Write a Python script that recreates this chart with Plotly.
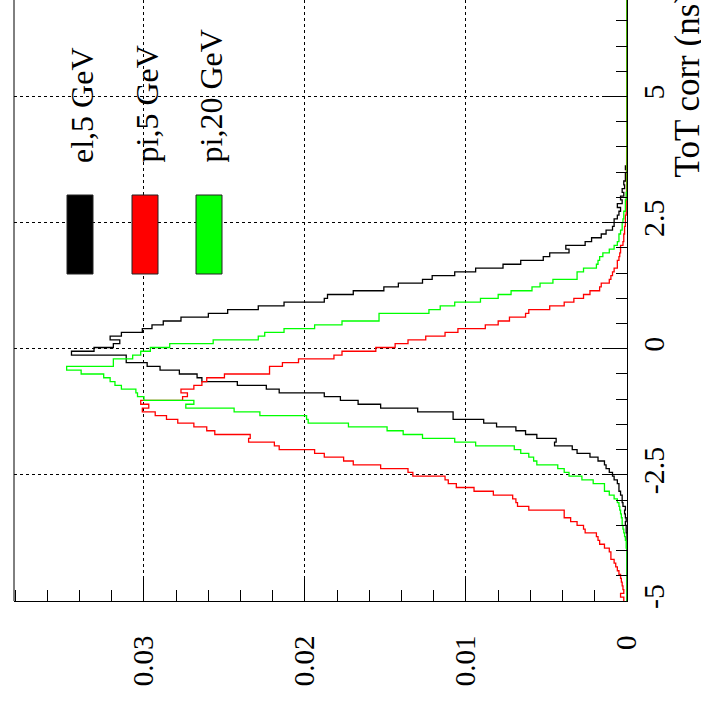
import plotly.graph_objects as go

# ToT corr histogram: 160 bins of 0.075 ns starting at -5 ns (normalised entries)
bin_start = -5.0
bin_width = 0.075

el_5GeV = [
    0, 0, 0, 0, 0, 0, 0, 0, 0, 0,
    0, 0, 0, 0, 0, 0, 0.00003, 0, 0.00005, 0.00005,
    0.0001, 0.00005, 0.0001, 0.00015, 0.0001, 0.00025, 0.0003, 0.0003, 0.0004, 0.0005,
    0.0005, 0.0006, 0.0008, 0.0009, 0.0011, 0.0013, 0.0014, 0.0018, 0.0023, 0.0031,
    0.0034, 0.0045, 0.0044, 0.0056, 0.0063, 0.0069, 0.0081, 0.0089, 0.0108, 0.0108,
    0.0130, 0.0153, 0.0167, 0.0178, 0.0188, 0.0216, 0.0224, 0.0242, 0.0264, 0.0267,
    0.0278, 0.0290, 0.0298, 0.0311, 0.0311, 0.0345, 0.0331, 0.0319, 0.0315, 0.0321,
    0.0314, 0.0301, 0.0295, 0.0288, 0.0277, 0.0260, 0.0248, 0.0229, 0.0213, 0.0188,
    0.0186, 0.0170, 0.0151, 0.0142, 0.0127, 0.0121, 0.0107, 0.0094, 0.0077, 0.0066,
    0.0052, 0.0048, 0.0036, 0.0038, 0.0026, 0.0022, 0.0016, 0.0013, 0.0009, 0.0008,
    0.0008, 0.0006, 0.0005, 0.0004, 0.0006, 0.0003, 0.0004, 0.0002, 0.0003, 0.00015,
    0.0002, 0.0001, 0.0001, 0.00003, 0.0001, 0, 0.00003, 0, 0, 0,
    0, 0, 0, 0, 0, 0, 0, 0, 0, 0,
    0, 0, 0, 0, 0, 0, 0, 0, 0, 0,
    0, 0, 0, 0, 0, 0, 0, 0, 0, 0,
    0, 0, 0, 0, 0, 0, 0, 0, 0, 0,
]

pi_5GeV = [
    0.0002, 0.0004, 0.0002, 0.00025, 0.0003, 0.00035, 0.0004, 0.0005, 0.0006, 0.0007,
    0.0008, 0.0010, 0.0010, 0.0011, 0.0014, 0.0017, 0.0018, 0.0019, 0.0026, 0.0027,
    0.0031, 0.0035, 0.0039, 0.0039, 0.0061, 0.0068, 0.0069, 0.0071, 0.0083, 0.0095,
    0.0106, 0.0111, 0.0113, 0.0133, 0.0136, 0.0153, 0.0170, 0.0176, 0.0188, 0.0194,
    0.0216, 0.0219, 0.0235, 0.0234, 0.0256, 0.0261, 0.0269, 0.0279, 0.0286, 0.0293,
    0.0301, 0.0297, 0.0302, 0.0276, 0.0273, 0.0277, 0.0269, 0.0264, 0.0261, 0.0250,
    0.0222, 0.0222, 0.0214, 0.0204, 0.0182, 0.0177, 0.0156, 0.0144, 0.0136, 0.0125,
    0.0113, 0.0105, 0.0088, 0.0080, 0.0073, 0.0063, 0.0061, 0.0048, 0.0039, 0.0033,
    0.0027, 0.0023, 0.0017, 0.0016, 0.0011, 0.0010, 0.0009, 0.0008, 0.0006, 0.0006,
    0.0005, 0.00045, 0.0004, 0.0004, 0.00025, 0.0002, 0.0002, 0.00015, 0.00015, 0.0001,
    0.0001, 0.0001, 0.00005, 0.00008, 0.00005, 0.00005, 0.00003, 0, 0, 0,
    0, 0, 0, 0, 0, 0, 0, 0, 0, 0,
    0, 0, 0, 0, 0, 0, 0, 0, 0, 0,
    0, 0, 0, 0, 0, 0, 0, 0, 0, 0,
    0, 0, 0, 0, 0, 0, 0, 0, 0, 0,
    0, 0, 0, 0, 0, 0, 0, 0, 0, 0,
]

pi_20GeV = [
    0, 0, 0, 0, 0, 0, 0, 0, 0, 0,
    0, 0, 0, 0, 0.00005, 0.00005, 0.0001, 0.00015, 0.0002, 0.00025,
    0.0003, 0.0003, 0.00035, 0.0004, 0.00045, 0.0005, 0.0006, 0.0008, 0.0011, 0.0014,
    0.0014, 0.0021, 0.0028, 0.0036, 0.0039, 0.0043, 0.0056, 0.0058, 0.0061, 0.0066,
    0.0070, 0.0094, 0.0107, 0.0127, 0.0139, 0.0149, 0.0173, 0.0198, 0.0199, 0.0228,
    0.0244, 0.0274, 0.0269, 0.0300, 0.0304, 0.0305, 0.0314, 0.0318, 0.0321, 0.0325,
    0.0339, 0.0348, 0.0319, 0.0319, 0.0307, 0.0302, 0.0296, 0.0284, 0.0257, 0.0229,
    0.0225, 0.0213, 0.0194, 0.0177, 0.0154, 0.0154, 0.0123, 0.0116, 0.0107, 0.0091,
    0.0080, 0.0072, 0.0059, 0.0054, 0.0046, 0.0031, 0.0031, 0.0027, 0.0019, 0.0018,
    0.0017, 0.0015, 0.0011, 0.0008, 0.0006, 0.0005, 0.0005, 0.0004, 0.0003, 0.0003,
    0.00025, 0.0002, 0.0002, 0.0001, 0.0001, 0.0001, 0.00005, 0.00005, 0, 0,
    0, 0, 0, 0, 0, 0, 0, 0, 0, 0,
    0, 0, 0, 0, 0, 0, 0, 0, 0, 0,
    0, 0, 0, 0, 0, 0, 0, 0, 0, 0,
    0, 0, 0, 0, 0, 0, 0, 0, 0, 0,
    0, 0, 0, 0, 0, 0, 0, 0, 0, 0,
]

series_names = ["el,5 GeV", "pi,5 GeV", "pi,20 GeV"]
series_values = [el_5GeV, pi_5GeV, pi_20GeV]
series_colors = ["#000000", "#ff0000", "#00ff00"]

x_tick_vals = [-5, -2.5, 0, 2.5, 5]
x_tick_text = ["-5", "-2.5", "0", "2.5", "5"]
axis_title = "ToT corr (ns)"

W, H = 701, 705
ML, MR, MT, MB = 14, 74, 0, 104
PW, PH = W - ML - MR, H - MT - MB


def px(x):
    return (x - ML) / PW


def py(y):
    return (H - MB - y) / PH


def step_path(vals):
    xs, ys = [], []
    for i, v in enumerate(vals):
        lo = bin_start + i * bin_width
        hi = lo + bin_width
        xs += [v, v]
        ys += [lo, hi]
    return xs, ys


fig = go.Figure()
for name, vals, col in zip(series_names, series_values, series_colors):
    xs, ys = step_path(vals)
    fig.add_trace(go.Scatter(x=xs, y=ys, mode="lines", name=name,
                             line=dict(color=col, width=1.3), hoverinfo="skip"))

serif = "Liberation Serif"

fig.update_layout(
    width=W, height=H,
    margin=dict(l=ML, r=MR, t=MT, b=MB),
    paper_bgcolor="white", plot_bgcolor="white",
    showlegend=False,
    font=dict(family=serif, color="black"),
    xaxis=dict(
        range=[0.03807, 0], tickmode="linear", tick0=0, dtick=0.01,
        ticks="inside", ticklen=22, tickwidth=1, tickcolor="black",
        showline=True, linecolor="black", linewidth=1,
        showgrid=True, gridcolor="black", griddash="dot", gridwidth=1,
        zeroline=False, tickangle=-90,
        tickfont=dict(size=29, family=serif, color="black"),
        ticklabelstandoff=22,
        minor=dict(tick0=0, dtick=0.002, ticks="inside", ticklen=11,
                   tickcolor="black", tickwidth=1, showgrid=False),
    ),
    yaxis=dict(
        range=[-5, -5 + PH / 50.45], side="right",
        tickmode="array", tickvals=x_tick_vals, ticktext=x_tick_text,
        ticks="inside", ticklen=22, tickwidth=1, tickcolor="black",
        showline=True, linecolor="black", linewidth=1,
        showgrid=True, gridcolor="black", griddash="dot", gridwidth=1,
        zeroline=False, tickangle=-90,
        tickfont=dict(size=30, family=serif, color="black"),
        minor=dict(tickmode="linear", tick0=0, dtick=0.5, ticks="inside", ticklen=11,
                   tickcolor="black", tickwidth=1, showgrid=False),
    ),
)

# left frame border
fig.add_shape(type="line", xref="paper", yref="paper", x0=0, x1=0, y0=0, y1=1,
              line=dict(color="black", width=1))

# axis title (rotated)
fig.add_annotation(text=axis_title, xref="paper", yref="paper",
                   x=px(687), y=py(180), xanchor="center", yanchor="bottom",
                   textangle=-90, showarrow=False,
                   font=dict(size=35, family=serif, color="black"))

# legend: rotated labels and colour boxes
legend_centres = [82, 146, 210]
box_left = [67, 132, 196]
for name, col, xc, bl in zip(series_names, series_colors, legend_centres, box_left):
    fig.add_annotation(text=name, xref="paper", yref="paper",
                       x=px(xc), y=py(165), xanchor="center", yanchor="bottom",
                       textangle=-90, showarrow=False,
                       font=dict(size=32, family=serif, color="black"))
    fig.add_shape(type="rect", xref="paper", yref="paper",
                  x0=px(bl), x1=px(bl + 26), y0=py(274), y1=py(195),
                  fillcolor=col, line=dict(color="#222222", width=1))

fig.write_html("out.html")
